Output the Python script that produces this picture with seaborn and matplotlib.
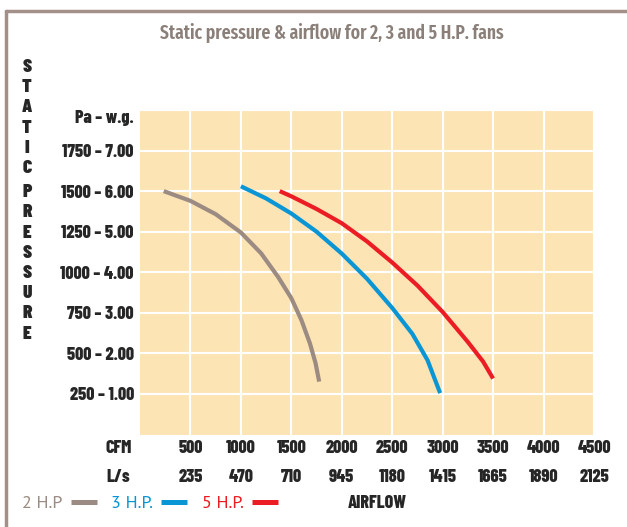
import pandas as pd
import matplotlib.pyplot as plt
import seaborn as sns
from matplotlib.lines import Line2D

# airflow (CFM) and static pressure (Pa)
hp2_cfm = [235, 500, 750, 1000, 1200, 1370, 1500, 1600, 1685, 1740, 1776]
hp2_pa = [1500, 1440, 1358, 1245, 1117, 970, 840, 705, 560, 440, 326]

hp3_cfm = [1000, 1250, 1500, 1750, 2000, 2250, 2500, 2700, 2850, 2975]
hp3_pa = [1530, 1455, 1362, 1250, 1115, 960, 780, 620, 458, 255]

hp5_cfm = [1385, 1500, 1750, 2000, 2250, 2500, 2750, 3000, 3250, 3400, 3500]
hp5_pa = [1500, 1468, 1390, 1302, 1190, 1060, 918, 755, 570, 450, 345]

cfm_ticks = [500, 1000, 1500, 2000, 2500, 3000, 3500, 4000, 4500]
ls_labels = ["235", "470", "710", "945", "1180", "1415", "1665", "1890", "2125"]
pa_ticks = [250, 500, 750, 1000, 1250, 1500, 1750, 2000]
wg_labels = ["1.00", "2.00", "3.00", "4.00", "5.00", "6.00", "7.00"]

fans = ["2 H.P", "3 H.P.", "5 H.P."]
colors = {"2 H.P": "#9b8b82", "3 H.P.": "#0a95d5", "5 H.P.": "#ec1c24"}

df = pd.concat([
    pd.DataFrame({"cfm": hp2_cfm, "pa": hp2_pa, "fan": fans[0]}),
    pd.DataFrame({"cfm": hp3_cfm, "pa": hp3_pa, "fan": fans[1]}),
    pd.DataFrame({"cfm": hp5_cfm, "pa": hp5_pa, "fan": fans[2]}),
])

sns.set_style("white")
cond = ["Barlow Condensed", "DejaVu Sans"]
plt.rcParams["font.family"] = cond

fig = plt.figure(figsize=(6.27, 5.27), dpi=100)
ax = fig.add_axes([140 / 627, 1 - 434.5 / 527, 454 / 627, 324.5 / 527])
ax.set_facecolor("#fce4b5")

sns.lineplot(data=df, x="cfm", y="pa", hue="fan", palette=colors, sort=False,
             estimator=None, lw=3, legend=False, ax=ax, solid_capstyle="butt")

ax.set_xlim(0, 4500)
ax.set_ylim(0, 2000)
ax.set_xticks(cfm_ticks)
ax.set_xticklabels([f"{c}\n{l}" for c, l in zip(cfm_ticks, ls_labels)],
                   fontsize=13, fontweight=800, linespacing=2.0)
ax.set_yticks(pa_ticks)
ax.set_yticklabels([f"{p} – {w}" for p, w in zip(pa_ticks, wg_labels)] + ["Pa – w.g."],
                   fontsize=13, fontweight=800)
ax.get_yticklabels()[-1].set_va("top")
ax.tick_params(axis="both", length=0)
ax.tick_params(axis="y", pad=4.5)
ax.tick_params(axis="x", pad=4)
ax.grid(True, color="white", lw=1.5)
ax.set_xlabel("")
ax.set_ylabel("")
for s in ax.spines.values():
    s.set_visible(False)

ax.text(-0.047, -0.018, "CFM\nL/s", transform=ax.transAxes, ha="center", va="top",
        fontsize=13, fontweight=800, linespacing=2.0)

# vertical axis caption, one letter per line
y = 67
for word in ["STATIC", "PRESSURE"]:
    for ch in word:
        fig.text(27 / 627, 1 - y / 527, ch, ha="center", va="center",
                 fontsize=14, fontweight=900)
        y += 20.2
    y += 4

title = fig.text(160 / 627, 1 - 33 / 527, "Static pressure & airflow for 2, 3 and 5 H.P. fans",
                 ha="left", va="center", fontsize=14, color="#8b8079",
                 family=["Fira Sans Extra Condensed", "DejaVu Sans"], fontweight="semibold")
# squeeze the title to the width it has in the reference
r = fig.canvas.get_renderer()
w = title.get_window_extent(r).width
title.set_fontsize(14 * 343 / w)

fig.text(377 / 627, 1 - 503 / 527, "AIRFLOW", ha="center", va="center",
         fontsize=13, fontweight=800)

# frame
fig.add_artist(Line2D([6 / 627, 6 / 627], [0, 1 - 10.5 / 527], color="#a39189", lw=2.5,
                      transform=fig.transFigure))
fig.add_artist(Line2D([6 / 627, 1], [1 - 10.5 / 527, 1 - 10.5 / 527], color="#a39189", lw=2.5,
                      transform=fig.transFigure))

handles = [Line2D([], [], color=colors[f], lw=3.6, solid_capstyle="butt") for f in fans]
fig.legend(handles, fans, loc="center left", bbox_to_anchor=(22 / 627, 1 - 504 / 527),
           ncol=3, frameon=False, markerfirst=False, labelcolor="linecolor",
           prop={"family": ["PT Sans", "DejaVu Sans"], "size": 13},
           handlelength=1.45, handletextpad=0.45, columnspacing=0.8,
           borderpad=0, borderaxespad=0)

fig.savefig("out.png", dpi=100)
